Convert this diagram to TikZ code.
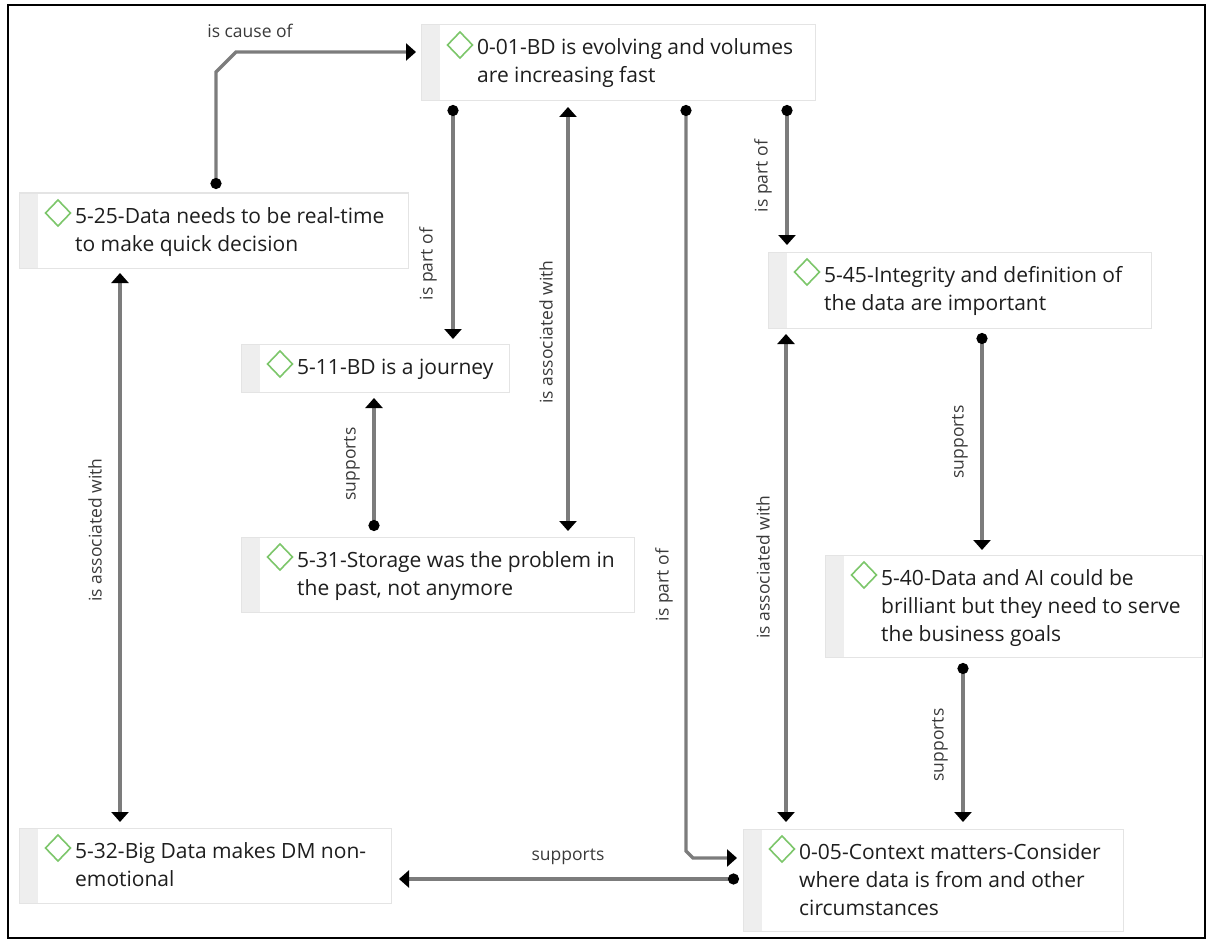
\documentclass[tikz,border=0pt]{standalone}
\usepackage{fontspec}
\setmainfont{Open Sans}
\usetikzlibrary{arrows.meta,calc}

\definecolor{linkgray}{HTML}{7C7C7C}
\definecolor{barfill}{HTML}{EEEEEE}
\definecolor{boxline}{HTML}{E4E4E4}
\definecolor{gemgreen}{HTML}{7CC66A}
\definecolor{inktext}{HTML}{1E1E1E}
\definecolor{inklabel}{HTML}{3A3A3A}

\tikzset{
  cbox/.style={rectangle, draw=boxline, line width=1pt, fill=white,
    inner sep=0pt, outer sep=0pt, anchor=north west,
    path picture={\fill[barfill] (path picture bounding box.north west)
      rectangle ([xshift=19pt]path picture bounding box.south west);}},
  ctext/.style={anchor=base west, inner sep=0pt, align=left, text=inktext,
    font=\fontsize{21pt}{28pt}\selectfont},
  gem/.style={draw=gemgreen, line width=1.6pt, line join=miter},
  lbl/.style={inner sep=0pt, text=inklabel, font=\fontsize{17.5pt}{20pt}\selectfont},
  vlbl/.style={lbl, rotate=90},
  link/.style={draw=linkgray, line width=3.2pt},
  dotarrow/.style={link, {Circle[length=11pt,width=11pt,color=black]}-{Triangle[length=10pt,width=17pt,color=black]}},
  twoarrow/.style={link, {Triangle[length=10pt,width=17pt,color=black]}-{Triangle[length=10pt,width=17pt,color=black]}},
}

% one concept box: name, top-left corner, width, height, number of lines, text
% (the text node sits on the baseline of its last line)
\newcommand{\concept}[7]{%
  \node[cbox, minimum width=#4pt, minimum height=#5pt] (#1) at (#2,#3) {};
  \draw[gem] ([shift={(39,7)}]#1.north west) -- ++(12.5,13) -- ++(-12.5,13) -- ++(-12.5,-13) -- cycle;
  \node[ctext] (#1-txt) at ([shift={({56},{30+28*(#6-1)})}]#1.north west) {#7};
}

\begin{document}
\begin{tikzpicture}[x=1pt, y=-1pt]
\useasboundingbox (0,0) rectangle (1208,939);
\draw[line width=2pt] (8,5) rectangle (1205,938);

% concept boxes
\concept{n001}{421}{25}{394}{76}{2}{0-01-BD is evolving and volumes\\are increasing fast}
\concept{n525}{19}{193}{389}{75}{2}{5-25-Data needs to be real-time\\to make quick decision}
\concept{n511}{241}{344}{268}{48}{1}{5-11-BD is a journey}
\concept{n531}{241}{537}{393}{75}{2}{5-31-Storage was the problem in\\the past, not anymore}
\concept{n545}{768}{252}{383}{76}{2}{5-45-Integrity and definition of\\the data are important}
\concept{n540}{825}{555}{377}{102}{3}{5-40-Data and AI could be\\brilliant but they need to serve\\the business goals}
\concept{n532}{19}{828}{372}{75}{2}{5-32-Big Data makes DM non-\\emotional}
\concept{n005}{743}{829}{380}{102}{3}{0-05-Context matters-Consider\\where data is from and other\\circumstances}

% connectors
\draw[dotarrow] ([shift={(197,-4)}]n525.north west) -- ++(0,-117) -- ++(20,-20)
  -- ([shift={(-5,27)}]n001.north west);
\node[lbl] (l-cause) at (250,31) {is cause of};

\draw[dotarrow] ([shift={(32,4)}]n001.south west) -- ([shift={(212,-5)}]n511.north west);
\node[vlbl] (l-part1) at (428,264) {is part of};

\draw[twoarrow] ([shift={(147,6)}]n001.south west) -- ([shift={(327,-6)}]n531.north west);
\node[vlbl] (l-assoc1) at (546,332) {is associated with};

\draw[dotarrow] ([shift={(265,4)}]n001.south west) -- ([shift={(-57,22)}]n005.north west)
  -- ++(7,7) -- ([shift={(-6,29)}]n005.north west);
\node[vlbl] (l-part2) at (664,585) {is part of};

\draw[dotarrow] ([shift={(366,4)}]n001.south west) -- ([shift={(19,-7)}]n545.north west);
\node[vlbl] (l-part3) at (763,176) {is part of};

\draw[dotarrow] ([shift={(133,-6)}]n531.north west) -- ([shift={(133,6)}]n511.south west);
\node[vlbl] (l-sup1) at (352,464) {supports};

\draw[twoarrow] ([shift={(101,5)}]n525.south west) -- ([shift={(101,-6)}]n532.north west);
\node[vlbl] (l-assoc2) at (95,530) {is associated with};

\draw[twoarrow] ([shift={(18,6)}]n545.south west) -- ([shift={(43,-7)}]n005.north west);
\node[vlbl] (l-assoc3) at (763,567) {is associated with};

\draw[dotarrow] ([shift={(214,5)}]n545.south west) -- ([shift={(157,-5)}]n540.north west);
\node[vlbl] (l-sup2) at (960,442) {supports};

\draw[dotarrow] ([shift={(138,6)}]n540.south west) -- ([shift={(220,-7)}]n005.north west);
\node[vlbl] (l-sup3) at (940,745) {supports};

\draw[dotarrow] ([shift={(-4,50)}]n005.north west) -- ([shift={(8,51)}]n532.north east);
\node[lbl] (l-sup4) at (568,857) {supports};
\end{tikzpicture}
\end{document}
